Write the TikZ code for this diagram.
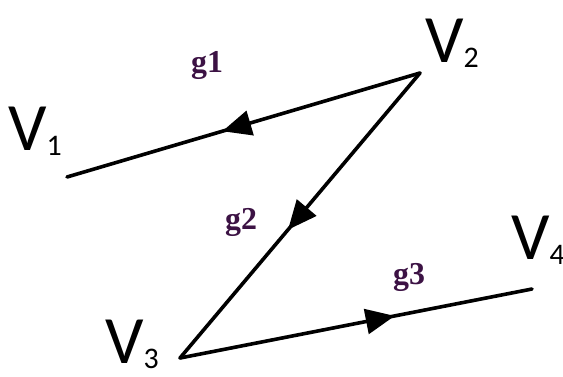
\documentclass[tikz,border=0pt]{standalone}
\usepackage{fontspec}
\setmainfont{Carlito}
\newfontfamily\gfont{Liberation Serif}
\usetikzlibrary{arrows.meta,decorations.markings}
\definecolor{gcol}{RGB}{60,18,68}
\tikzset{
  edge/.style={line width=3.6bp, line cap=round, line join=round},
  midarrow/.style={postaction={decorate},
    decoration={markings, mark=at position #1 with {\arrow{Triangle[length=29bp,width=25bp]}}}},
  vlabel/.style={inner sep=0pt, anchor=base west, font=\fontsize{68}{68}\selectfont},
  glabel/.style={inner sep=0pt, text=gcol, font=\gfont\bfseries\fontsize{32}{32}\selectfont},
}
\newcommand{\vsub}[1]{\raisebox{-5bp}{\fontsize{30}{30}\selectfont #1}}
\begin{document}
\begin{tikzpicture}[x=1bp,y=-1bp]
\useasboundingbox (0,0) rectangle (563,376);
\coordinate (v1) at (67,177);
\coordinate (v2) at (420,73);
\coordinate (v3) at (180,358);
\coordinate (v4) at (532,289);
\node[vlabel] (l1) at (8,150) {V\vsub{1}};
\node[vlabel] (l2) at (425,62) {V\vsub{2}};
\node[vlabel] (l3) at (105,363) {V\vsub{3}};
\node[vlabel] (l4) at (511,259) {V\vsub{4}};
\node[glabel] (g1) at (207,65) {g1};
\node[glabel] (g2) at (241,222) {g2};
\node[glabel] (g3) at (409,277) {g3};
\draw[edge, midarrow=0.56] (v2) -- (v1);
\draw[edge, midarrow=0.55] (v2) -- (v3);
\draw[edge, midarrow=0.61] (v3) -- (v4);
\end{tikzpicture}
\end{document}
